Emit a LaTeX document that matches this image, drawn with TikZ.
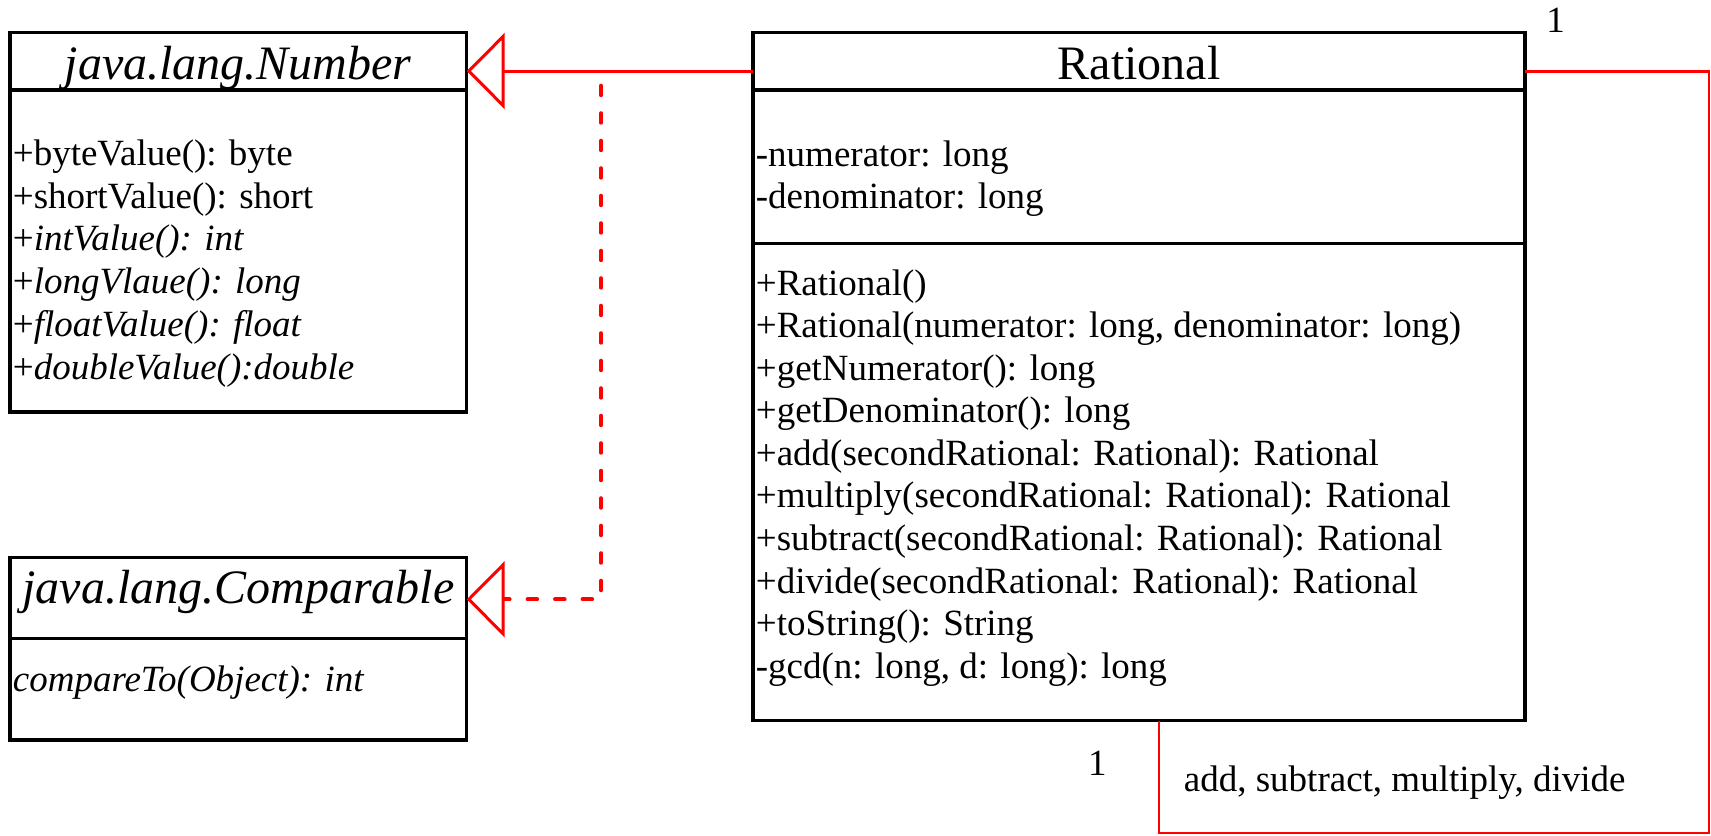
\documentclass[tikz,border=0pt]{standalone}
\usepackage{fontspec}
\setmainfont{Liberation Serif}
\usetikzlibrary{arrows.meta}
\begin{document}
\begin{tikzpicture}[x=0.5pt,y=-0.5pt,
  box/.style={draw=black, line width=1.75pt, inner sep=0pt, outer sep=0pt, anchor=north west},
  sepline/.style={draw=black, line width=1.6pt},
  body/.style={inner sep=0pt, anchor=base west, font=\fontsize{18.5pt}{21pt}\selectfont},
  ttl/.style={inner sep=0pt, anchor=base, font=\fontsize{24pt}{28pt}\selectfont},
  gen/.style={draw=red, line width=1.5pt, -{Triangle[open, length=19pt, width=38pt]}},
  realiz/.style={draw=red, line width=2pt, dash pattern=on 4.75pt off 9pt, line cap=round,
    -{Triangle[open, length=19pt, width=38pt, line width=1.5pt]}},
  assoc/.style={draw=red, line width=1pt}]
\useasboundingbox (0,0) rectangle (1711,835);

% class boxes
\node[box, minimum width=228.35pt, minimum height=189.85pt] (number) at (10,32.3) {};
\node[box, minimum width=228.35pt, minimum height=91.35pt] (comparable) at (10,557.3) {};
\node[box, minimum width=386pt, minimum height=344.2pt] (rational) at (753,32.3) {};

% compartment separators
\draw[sepline] (10,90) -- (466.7,90);
\draw[sepline] (10,638.3) -- (466.7,638.3);
\draw[sepline] (753,90) -- (1525,90);
\draw[sepline] (753,243.3) -- (1525,243.3);

% titles
\node[ttl] (numbertitle) at (238.35,79) {\textit{java.lang.Number}};
\node[ttl] (comparabletitle) at (238.35,603.3) {\textit{java.lang.Comparable}};
\node[ttl] (rationaltitle) at (1139,79) {Rational};

% Number members
\foreach \t [count=\i from 0] in {{+byteValue(): byte},{+shortValue(): short},{+\textit{intValue(): int}},{+\textit{longVlaue(): long}},{+\textit{floatValue(): float}},{+\textit{doubleValue():double}}}
  \node[body] (num\i) at (12.5,{165.5+42.7*\i}) {\t};

% Comparable member
\node[body] (cmp0) at (12.5,691.7) {\textit{compareTo(Object): int}};

% Rational attributes
\node[body] (ratt0) at (755.5,166.5) {-numerator: long};
\node[body] (ratt1) at (755.5,208.5) {-denominator: long};

% Rational methods
\foreach \t [count=\i from 0] in {{+Rational()},{+Rational(numerator: long, denominator: long)},{+getNumerator(): long},{+getDenominator(): long},{+add(secondRational: Rational): Rational},{+multiply(secondRational: Rational): Rational},{+subtract(secondRational: Rational): Rational},{+divide(secondRational: Rational): Rational},{+toString(): String},{-gcd(n: long, d: long): long}}
  \node[body] (rmeth\i) at (755.5,{295+42.59*\i}) {\t};

% connectors
\coordinate (g) at (0,71);
\draw[gen] (rational.west |- g) -- (number.east |- g);

\coordinate (dtop) at (601,85.7);
\coordinate (dj) at (0,599.3);
\draw[realiz] (dtop) |- (comparable.east |- dj);

\coordinate (sa1) at (1709,833);
\coordinate (sa2) at (1158.5,0);
\draw[assoc] (rational.east |- g) -| (sa1) -| (sa2 |- rational.south);
\draw[assoc, line width=1.5pt] (rational.east |- g) -- (sa1 |- g);

% labels
\node[body, anchor=base] (mult1) at (1555.7,32.3) {1};
\node[body, anchor=base] (mult2) at (1097.4,775) {1};
\node[body] (assoclabel) at (1183.5,791.7) {add, subtract, multiply, divide};
\end{tikzpicture}
\end{document}
